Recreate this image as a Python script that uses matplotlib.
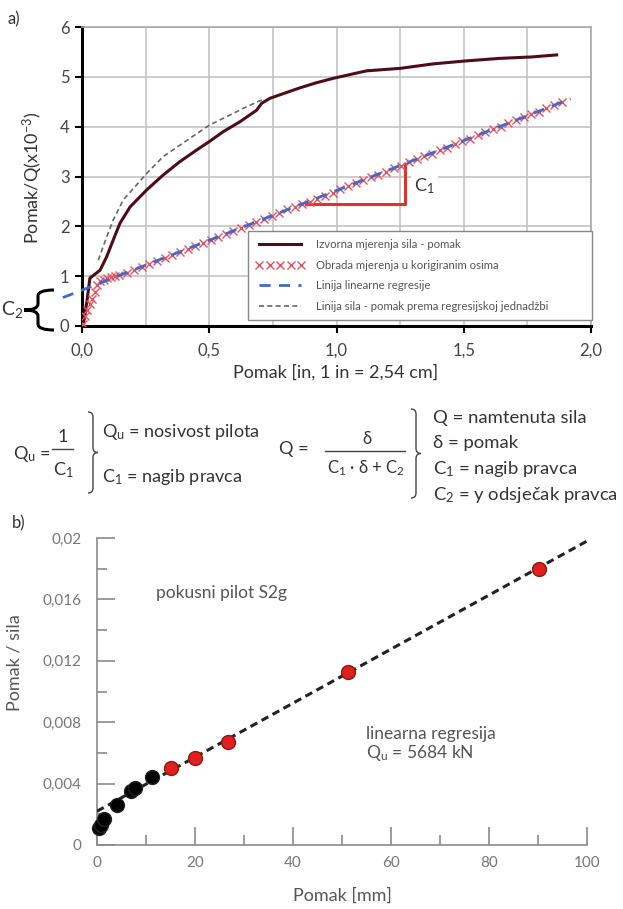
import matplotlib
matplotlib.use('Agg')
import matplotlib.pyplot as plt
from matplotlib.path import Path
from matplotlib.patches import PathPatch
from matplotlib.transforms import Affine2D

plt.rcParams['font.family'] = ['Lato', 'DejaVu Sans']
plt.rcParams['mathtext.default'] = 'regular'

W, H = 623, 909

# a) measured force-displacement curve
meas_x = [0.0, 0.005, 0.02, 0.031, 0.071, 0.097, 0.123, 0.149, 0.189, 0.254, 0.319,
          0.385, 0.45, 0.5, 0.555, 0.621, 0.686, 0.706, 0.739, 0.778, 0.857, 0.92,
          0.987, 1.118, 1.25, 1.38, 1.51, 1.64, 1.77, 1.865]
meas_y = [0.0, 0.02, 0.52, 0.96, 1.12, 1.39, 1.73, 2.06, 2.39, 2.73, 3.03,
          3.30, 3.53, 3.70, 3.90, 4.10, 4.33, 4.47, 4.57, 4.64, 4.78, 4.88,
          4.97, 5.12, 5.17, 5.26, 5.32, 5.37, 5.40, 5.44]

# a) force-displacement line from the regression equation
hyp_x = [0.064, 0.097, 0.123, 0.162, 0.202, 0.254, 0.319, 0.385, 0.5, 0.58, 0.647, 0.712]
hyp_y = [1.32, 1.79, 2.13, 2.53, 2.76, 3.06, 3.40, 3.63, 4.03, 4.23, 4.40, 4.55]

# a) measurements in corrected axes
corr_x = [0.005, 0.012, 0.02, 0.03, 0.04, 0.05, 0.06, 0.07, 0.085, 0.1, 0.115, 0.13, 0.145,
          0.175, 0.205, 0.235, 0.265, 0.295, 0.325, 0.355, 0.385, 0.415, 0.445, 0.475,
          0.505, 0.535, 0.565, 0.595, 0.625, 0.655, 0.685, 0.715, 0.745, 0.775, 0.805,
          0.835, 0.865, 0.895, 0.925, 0.955, 0.985, 1.015, 1.045, 1.075, 1.105, 1.135,
          1.165, 1.195, 1.225, 1.255, 1.285, 1.315, 1.345, 1.375, 1.405, 1.435, 1.465,
          1.495, 1.525, 1.555, 1.585, 1.615, 1.645, 1.675, 1.705, 1.735, 1.765, 1.795,
          1.825, 1.855, 1.885]
corr_y = [0.05, 0.2, 0.33, 0.45, 0.55, 0.68, 0.82, 0.9, 0.93, 0.97, 0.98, 1.0, 1.02,
          1.07, 1.13, 1.19, 1.24, 1.31, 1.37, 1.43, 1.49, 1.55, 1.60, 1.67,
          1.73, 1.79, 1.85, 1.90, 1.97, 2.03, 2.08, 2.14, 2.20, 2.27, 2.34,
          2.38, 2.44, 2.48, 2.55, 2.61, 2.67, 2.74, 2.80, 2.86, 2.92, 2.98,
          3.04, 3.10, 3.17, 3.22, 3.29, 3.35, 3.41, 3.46, 3.53, 3.58, 3.65,
          3.71, 3.76, 3.83, 3.89, 3.95, 4.00, 4.07, 4.13, 4.19, 4.25, 4.30,
          4.37, 4.43, 4.49]

# a) linear regression line and slope triangle
reg_x = [-0.075, 1.92]
reg_y = [0.57, 4.56]
tri_x = [0.88, 1.27, 1.27]
tri_y = [2.45, 2.45, 3.26]

a_xticks = [0.0, 0.5, 1.0, 1.5, 2.0]
a_xticklabels = ['0,0', '0,5', '1,0', '1,5', '2,0']
a_xgrid = [0.25, 0.75, 1.25, 1.75]
a_yticks = [0, 1, 2, 3, 4, 5, 6]
legend_labels = ['Izvorna mjerenja sila - pomak',
                 'Obrada mjerenja u korigiranim osima',
                 'Linija linearne regresije',
                 'Linija sila - pomak prema regresijskoj jednadžbi']

# b) test pile S2g
black_x = [0.4, 0.9, 1.5, 4.0, 7.0, 7.8, 11.2]
black_y = [0.0011, 0.0013, 0.0017, 0.0026, 0.0035, 0.0037, 0.0044]
red_x = [15.1, 19.9, 26.7, 51.3, 90.3]
red_y = [0.0050, 0.0057, 0.0067, 0.0113, 0.0180]
fit_x = [0, 100]
fit_y = [0.0022, 0.0198]

b_xticks = [0, 20, 40, 60, 80, 100]
b_xminor = [10, 30, 50, 70, 90]
b_yticks = [0, 0.004, 0.008, 0.012, 0.016, 0.02]
b_yticklabels = ['0', '0,004', '0,008', '0,012', '0,016', '0,02']
b_yminor = [0.002, 0.006, 0.010, 0.014, 0.018]

fig = plt.figure(figsize=(W / 100, H / 100), dpi=100)
pix = Affine2D().scale(1 / W, -1 / H).translate(0, 1) + fig.transFigure


def T(x, y, s, **kw):
    kw.setdefault('color', '#333333')
    kw.setdefault('va', 'center')
    fig.text(x / W, 1 - y / H, s, **kw)


def brace(x0, y0, y1, xs, xt, r, lw=1.0, color='#444444'):
    ym = (y0 + y1) / 2
    verts = [(x0, y0), (xs, y0), (xs, y0 + r), (xs, ym - r), (xs, ym), (xt, ym),
             (xs, ym), (xs, ym + r), (xs, y1 - r), (xs, y1), (x0, y1)]
    codes = [Path.MOVETO, Path.CURVE3, Path.CURVE3, Path.LINETO, Path.CURVE3, Path.CURVE3,
             Path.CURVE3, Path.CURVE3, Path.LINETO, Path.CURVE3, Path.CURVE3]
    fig.add_artist(PathPatch(Path(verts, codes), transform=pix, fill=False,
                             lw=lw, edgecolor=color))


# ---------------- a)
ax = fig.add_axes([82 / W, 1 - 326 / H, 509 / W, 299 / H])
ax.set_xlim(0, 2)
ax.set_ylim(0, 6)
ax.plot(hyp_x, hyp_y, color='#666666', lw=1.2, dashes=(3, 2), zorder=3,
        label=legend_labels[3])
ax.plot(meas_x, meas_y, color='#4d0d18', lw=2.2, zorder=4, label=legend_labels[0])
ax.plot(corr_x, corr_y, ls='none', marker='x', ms=6, mew=1.0, color='#e8505f',
        zorder=5, label=legend_labels[1])
ax.plot(reg_x, reg_y, color='#3a6cc8', lw=2.0, dashes=(4, 3), zorder=6, clip_on=False,
        label=legend_labels[2])
ax.plot(tri_x, tri_y, color='#e8302a', lw=2.2, zorder=4)
ax.text(1.345, 2.8, 'C$_1$', fontsize=13, color='#333333', ha='center', va='center',
        bbox=dict(facecolor='white', edgecolor='none', pad=2.5), zorder=3)

ax.set_xticks(a_xticks)
ax.set_xticklabels(a_xticklabels)
ax.set_xticks(a_xgrid, minor=True)
ax.set_yticks(a_yticks)
ax.grid(True, which='both', color='#c4c4c4', lw=1.2, zorder=0)
ax.set_axisbelow(True)
ax.tick_params(which='major', direction='out', length=5, width=1.5, color='black',
               labelsize=12, labelcolor='#444444', pad=4)
ax.tick_params(axis='x', pad=7)
ax.tick_params(which='minor', length=0)
for s in ['left', 'bottom']:
    ax.spines[s].set_linewidth(2.2)
    ax.spines[s].set_color('black')
for s in ['top', 'right']:
    ax.spines[s].set_linewidth(1.2)
    ax.spines[s].set_color('#a8a8a8')

handles, labels = ax.get_legend_handles_labels()
order = [labels.index(l) for l in legend_labels]
leg = ax.legend([handles[i] for i in order], [labels[i] for i in order],
                bbox_to_anchor=(0.326, 0.02, 0.676, 0.291), mode='expand',
                loc='lower left', fontsize=8.2, labelcolor='#555555', numpoints=5,
                handlelength=4.3, handletextpad=1.0, labelspacing=0.85,
                borderpad=0.7, borderaxespad=0, fancybox=False, framealpha=1,
                edgecolor='#888888')
leg.get_frame().set_linewidth(1.0)
leg.set_zorder(10)

T(8, 19, 'a)', fontsize=12, ha='left')
T(33, 178, 'Pomak/Q(x10$^{-3}$)', fontsize=13, rotation=90, ha='center')
T(336, 372, 'Pomak [in, 1 in = 2,54 cm]', fontsize=13, ha='center')
T(12, 310, 'C$_2$', fontsize=14, ha='center')
brace(54, 290, 330, 38, 24, 6, lw=2.2, color='black')

# ---------------- formulas
T(13, 454, 'Q$_u$ =', fontsize=13, ha='left')
T(63, 437, '1', fontsize=13, ha='center')
fig.add_artist(plt.Line2D([52, 73], [449, 449], transform=pix, color='#444444', lw=1.0))
T(63, 470, 'C$_1$', fontsize=13, ha='center')
brace(88, 412, 493, 93, 98, 5)
T(102, 432, 'Q$_u$ = nosivost pilota', fontsize=13, ha='left')
T(102, 477, 'C$_1$ = nagib pravca', fontsize=13, ha='left')

T(294, 449, 'Q =', fontsize=13, ha='center')
T(367, 439, 'δ', fontsize=12, ha='center')
fig.add_artist(plt.Line2D([325, 405], [451, 451], transform=pix, color='#444444', lw=1.0))
T(366, 468, 'C$_1$ · δ + C$_2$', fontsize=12, ha='center')
brace(411, 409, 498, 416, 421, 5)
T(433, 418, 'Q = namtenuta sila', fontsize=13.3, ha='left')
T(433, 443, 'δ = pomak', fontsize=13.3, ha='left')
T(433, 469, 'C$_1$ = nagib pravca', fontsize=13.3, ha='left')
T(433, 495, 'C$_2$ = y odsječak pravca', fontsize=13.3, ha='left')

# ---------------- b)
bx = fig.add_axes([97 / W, 1 - 845 / H, 490 / W, 307 / H])
bx.set_xlim(0, 100)
bx.set_ylim(0, 0.02)
bx.plot(fit_x, fit_y, color='#222222', lw=2.2, dashes=(2.5, 1.6), zorder=3)
bx.plot(black_x, black_y, ls='none', marker='o', ms=10, color='black', mec='#222222',
        zorder=4, clip_on=False)
bx.plot(red_x, red_y, ls='none', marker='o', ms=10, color='#e01f1f', mec='#8a1a10',
        mew=1.0, zorder=5)
bx.set_xticks(b_xticks)
bx.set_xticks(b_xminor, minor=True)
bx.set_yticks(b_yticks)
bx.set_yticklabels(b_yticklabels)
bx.set_yticks(b_yminor, minor=True)
bx.tick_params(which='major', direction='in', length=13, width=1.2, color='#8a8a8a',
               labelsize=11, labelcolor='#777777')
bx.tick_params(axis='y', pad=11)
bx.tick_params(axis='x', pad=8)
bx.tick_params(which='minor', direction='in', length=7, width=1.2, color='#8a8a8a')
for s in ['top', 'right']:
    bx.spines[s].set_visible(False)
for s in ['left', 'bottom']:
    bx.spines[s].set_color('#8a8a8a')
    bx.spines[s].set_linewidth(1.2)

bx.text(12, 0.0164, 'pokusni pilot S2g', fontsize=12.5, color='#555555', va='center')
bx.text(55, 0.0072, 'linearna regresija', fontsize=12.5, color='#555555', va='center')
bx.text(55, 0.0060, 'Q$_u$ = 5684 kN', fontsize=12.5, color='#555555', va='center')

T(12, 523, 'b)', fontsize=12, ha='left')
T(15, 663, 'Pomak / sila', fontsize=13, rotation=90, ha='center', color='#555555')
T(342, 896, 'Pomak [mm]', fontsize=13, ha='center', color='#555555')

fig.savefig('out.png', dpi=100)
